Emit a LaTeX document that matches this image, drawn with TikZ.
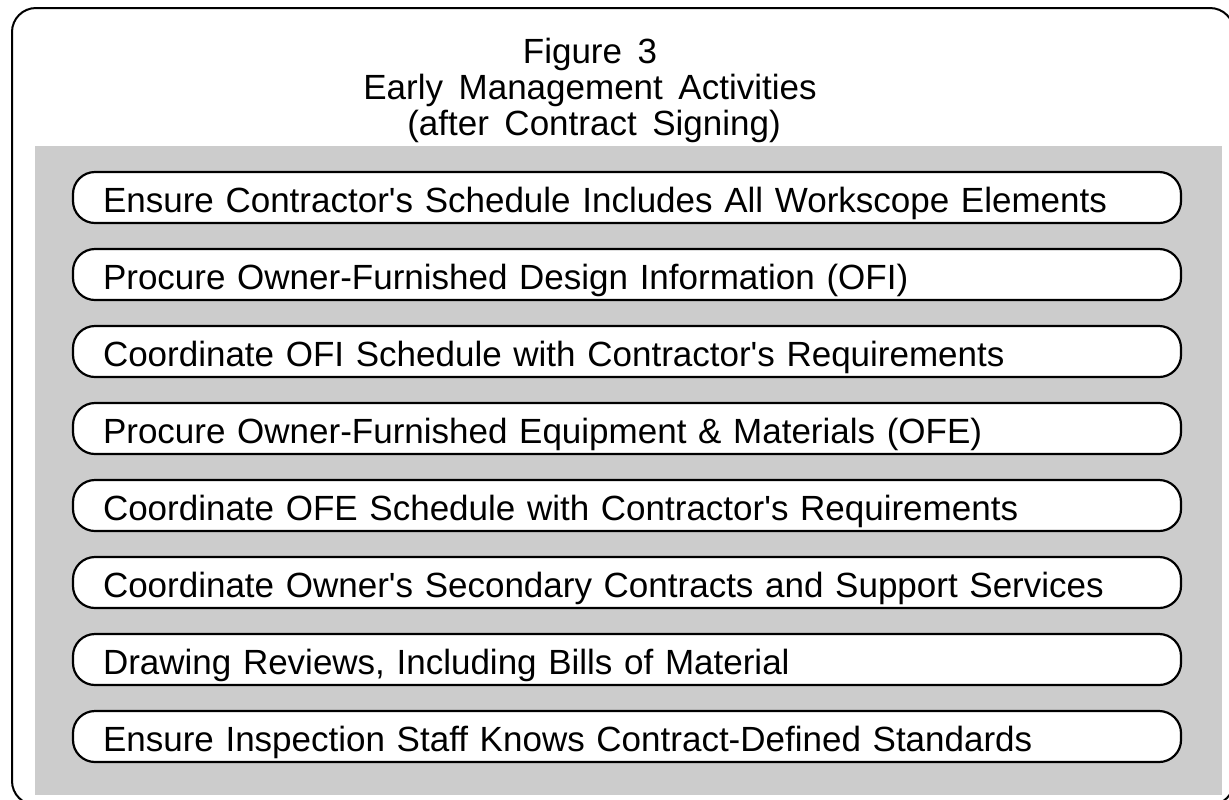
\documentclass[tikz,border=0pt]{standalone}
\usepackage{fontspec}
\setmainfont{Liberation Sans}[WordSpace=1.6]
\usepackage{tikz}
\definecolor{panelgray}{HTML}{CCCCCC}

\begin{document}
\begin{tikzpicture}[
        x=0.5pt, y=-0.5pt,
        frame/.style={draw, line width=1pt, rounded corners=12pt},
        panel/.style={fill=panelgray},
        title/.style={font=\fontsize{17.5}{20}\selectfont, inner sep=0pt},
        activity/.style={draw, fill=white, line width=1.1pt, rounded corners=11pt,
            minimum width=554pt, minimum height=25.5pt, inner xsep=15pt, inner ysep=0pt,
            text width=524pt, align=left, font=\fontsize{17.5}{20}\selectfont,
            execute at begin node={\rule[-4pt]{0pt}{22.5pt}}}
    ]
        \useasboundingbox (0,0) rectangle (1229,799);
        \clip (0,0) rectangle (1229,799);

        % Frame and panel
        \draw[frame] (12,8) rectangle (1234,805);
        \fill[panel] (35,146) rectangle (1222,795);

        % Title
        \node[title, anchor=base] (T1) at (590,63) {Figure 3};
        \node[title, anchor=base] (T2) at (590,99) {Early Management Activities};
        \node[title, anchor=base] (T3) at (594,135) {(after Contract Signing)};

        % Activities
        \node[activity] (A1) at (627,197.5) {Ensure Contractor\textquotesingle s Schedule Includes All Workscope Elements};
        \node[activity] (A2) at (627,274.5) {Procure Owner-Furnished Design Information (OFI)};
        \node[activity] (A3) at (627,351.5) {Coordinate OFI Schedule with Contractor\textquotesingle s Requirements};
        \node[activity] (A4) at (627,428.5) {Procure Owner-Furnished Equipment \& Materials (OFE)};
        \node[activity] (A5) at (627,505.5) {Coordinate OFE Schedule with Contractor\textquotesingle s Requirements};
        \node[activity] (A6) at (627,582.5) {Coordinate Owner\textquotesingle s Secondary Contracts and Support Services};
        \node[activity] (A7) at (627,659.5) {Drawing Reviews, Including Bills of Material};
        \node[activity] (A8) at (627,736.5) {Ensure Inspection Staff Knows Contract-Defined Standards};

    \end{tikzpicture}
\end{document}
